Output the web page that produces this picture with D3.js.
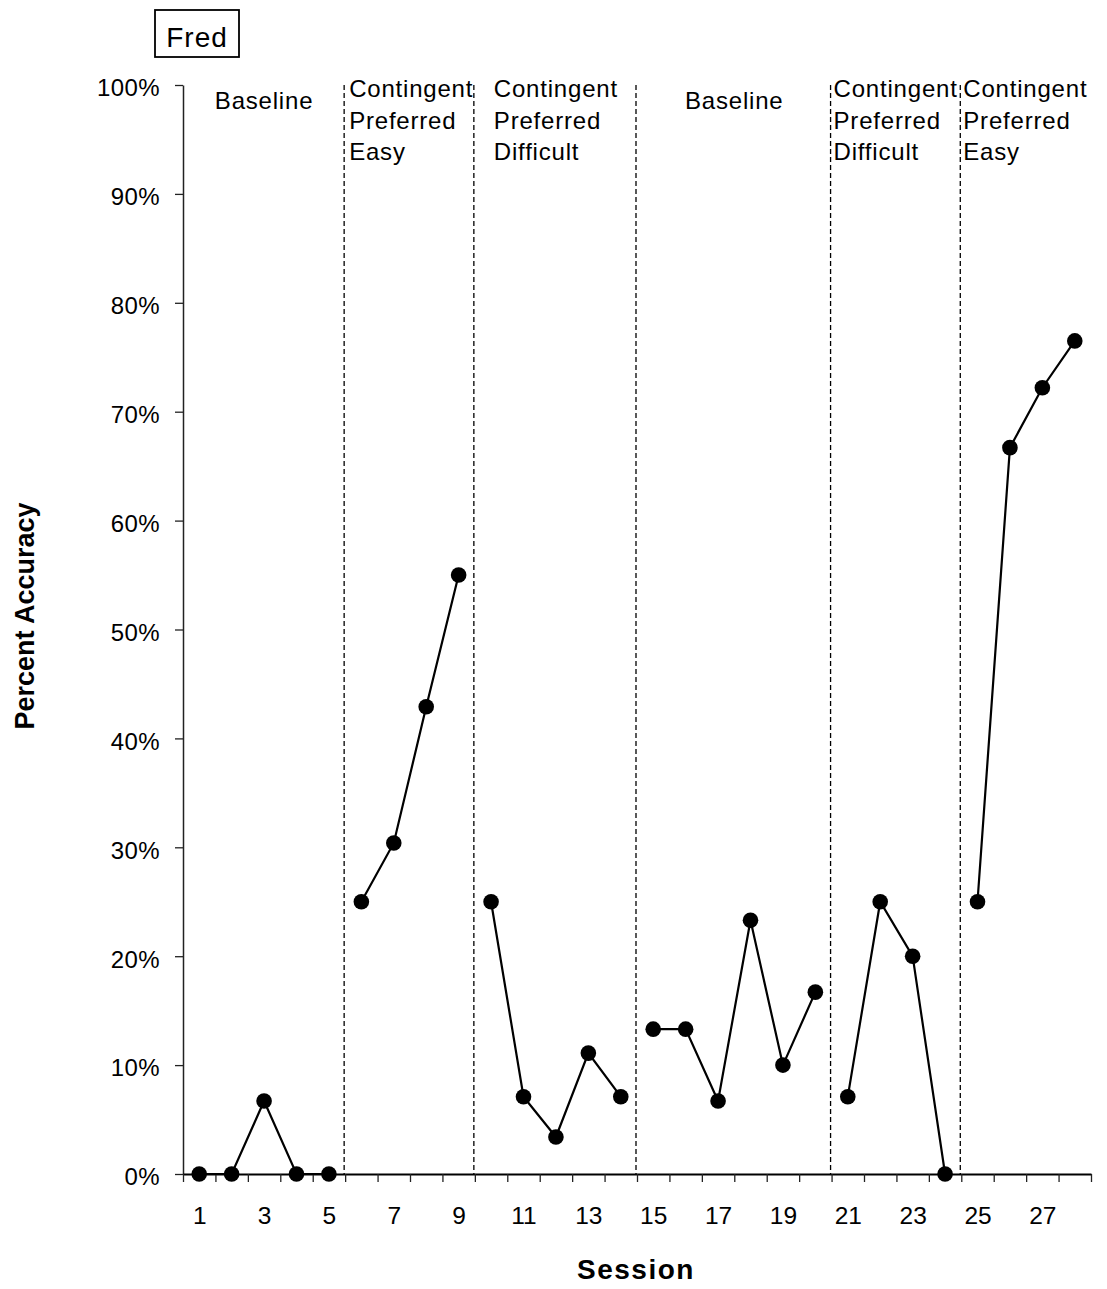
<!DOCTYPE html>
<html>
<head>
<meta charset="utf-8">
<script src="https://cdn.jsdelivr.net/npm/d3@7"></script>
<style>
  html, body { margin: 0; padding: 0; background: #fff; }
  svg { display: block; font-family: "Liberation Sans", Arial, sans-serif; }
</style>
</head>
<body>
<svg id="chart" width="1107" height="1289"></svg>
<script>
// ---- Data ----
const sessions = [1,2,3,4,5,6,7,8,9,10,11,12,13,14,15,16,17,18,19,20,21,22,23,24,25,26,27,28];
const accuracy = [0,0,6.7,0,0, 25,30.4,42.9,55, 25,7.1,3.4,11.1,7.1, 13.3,13.3,6.7,23.3,10,16.7, 7.1,25,20,0, 25,66.7,72.2,76.5];
const phaseStarts = [1, 6, 10, 15, 21, 25];
const phaseEnds   = [5, 9, 14, 20, 24, 28];
const phaseLabels = [
  ["Baseline"],
  ["Contingent", "Preferred", "Easy"],
  ["Contingent", "Preferred", "Difficult"],
  ["Baseline"],
  ["Contingent", "Preferred", "Difficult"],
  ["Contingent", "Preferred", "Easy"]
];
const yTicks = [0,10,20,30,40,50,60,70,80,90,100];
const xLabelTicks = [1,3,5,7,9,11,13,15,17,19,21,23,25,27];
const participant = "Fred";
const xTitle = "Session";
const yTitle = "Percent Accuracy";

// ---- Layout ----
const svg = d3.select("#chart");
const M = { left: 183, right: 1091, top: 85, bottom: 1174 };

const x = d3.scaleLinear().domain([0.5, 28.5]).range([M.left, M.right]);
const y = d3.scaleLinear().domain([0, 100]).range([M.bottom, M.top]);

// phase divider lines
const dividers = phaseEnds.slice(0, -1).map(e => e + 0.5);
svg.append("g").selectAll("line").data(dividers).join("line")
  .attr("x1", d => x(d) - 1).attr("x2", d => x(d) - 1)
  .attr("y1", y(100)).attr("y2", y(0))
  .attr("stroke", "#000").attr("stroke-width", 1.3)
  .attr("stroke-dasharray", "5,3");

// Y axis
const yAxis = d3.axisLeft(y).tickValues(yTicks)
  .tickFormat(d => d + "%").tickSize(8).tickSizeOuter(0).tickPadding(15);
const gy = svg.append("g").attr("transform", `translate(${M.left},0)`).call(yAxis);
gy.select(".domain").attr("stroke", "#222").attr("stroke-width", 1.5);
gy.selectAll(".tick line").attr("stroke", "#222").attr("stroke-width", 1.3);
gy.selectAll(".tick text").attr("font-size", 24).attr("fill", "#000")
  .attr("font-family", "Liberation Sans, Arial, sans-serif")
  .attr("letter-spacing", "0.4px").attr("dy", "0.45em");

// X axis (boundary ticks)
const boundaries = d3.range(0.5, 28.6, 1);
const xAxis = d3.axisBottom(x).tickValues(boundaries).tickFormat("")
  .tickSize(8).tickSizeOuter(0);
const gx = svg.append("g").attr("transform", `translate(0,${M.bottom})`).call(xAxis);
gx.select(".domain").attr("stroke", "#000").attr("stroke-width", 2);
gx.selectAll(".tick line").attr("stroke", "#222").attr("stroke-width", 1.3);

// X labels
const xLab = d3.axisBottom(x).tickValues(xLabelTicks).tickSize(0).tickPadding(0);
const gxl = svg.append("g").attr("transform", `translate(0,${M.bottom})`).call(xLab);
gxl.select(".domain").remove();
gxl.selectAll(".tick text").attr("font-size", 24.5).attr("fill", "#000")
  .attr("font-family", "Liberation Sans, Arial, sans-serif")
  .attr("dy", null).attr("y", 50);

// Data lines per phase
const line = d3.line().x(d => x(d.s)).y(d => y(d.v));
const points = sessions.map((s, i) => ({ s, v: accuracy[i] }));
phaseStarts.forEach((st, i) => {
  const seg = points.filter(p => p.s >= st && p.s <= phaseEnds[i]);
  svg.append("path").datum(seg).attr("d", line)
    .attr("fill", "none").attr("stroke", "#000").attr("stroke-width", 2.2);
});
svg.append("g").selectAll("circle").data(points).join("circle")
  .attr("cx", d => x(d.s)).attr("cy", d => y(d.v)).attr("r", 7.8).attr("fill", "#000");

// Phase labels
const labelOffsets = [0, 4, 19, 0, 2, 2];
phaseLabels.forEach((lines, i) => {
  const isBaseline = lines.length === 1;
  const t = svg.append("text")
    .attr("font-size", 24).attr("letter-spacing", "0.8px").attr("fill", "#000");
  if (isBaseline) {
    const cx = (x(phaseStarts[i] - 0.5) + x(phaseEnds[i] + 0.5)) / 2;
    t.attr("text-anchor", "middle").attr("x", cx).attr("y", 109).text(lines[0]);
  } else {
    const lx = x(phaseStarts[i] - 0.5) + labelOffsets[i];
    lines.forEach((ln, j) => {
      t.append("tspan").attr("x", lx).attr("y", 97 + j * 31.5).text(ln);
    });
  }
});

// Participant box
svg.append("rect").attr("x", 155).attr("y", 10).attr("width", 84).attr("height", 47)
  .attr("fill", "#fff").attr("stroke", "#000").attr("stroke-width", 1.8);
svg.append("text").attr("x", 197).attr("y", 47).attr("text-anchor", "middle")
  .attr("font-size", 28).attr("letter-spacing", "1px").text(participant);

// Axis titles
svg.append("text").attr("x", 636).attr("y", 1279).attr("text-anchor", "middle")
  .attr("font-size", 28).attr("font-weight", "bold").attr("letter-spacing", "1.5px")
  .text(xTitle);
svg.append("text").attr("transform", "translate(34,616) rotate(-90)")
  .attr("text-anchor", "middle").attr("font-size", 27).attr("font-weight", "bold")
  .text(yTitle);
</script>
</body>
</html>
